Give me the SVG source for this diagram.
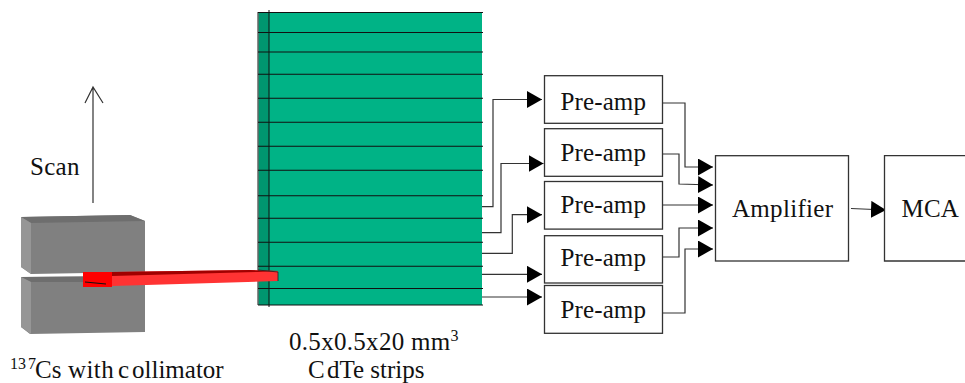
<svg xmlns="http://www.w3.org/2000/svg" width="965" height="383" viewBox="0 0 965 383">
<style>
text{font-family:"Liberation Serif","Times New Roman",serif;font-size:25px;fill:#111}
.box{fill:#fff;stroke:#333;stroke-width:1.3}
.c{fill:none;stroke:#333;stroke-width:1.2}
.s{stroke:#111;stroke-width:1.1}
.p{text-anchor:middle;letter-spacing:.1px}
.u{font-size:16px}
</style>
<defs>
<marker id="a" markerUnits="userSpaceOnUse" markerWidth="16" markerHeight="18" refX="15" refY="8.500" orient="auto"><path d="M0 0L15 8.500L0 17Z" fill="#000"/></marker>
</defs>
<g id="scan"><path class="c" d="M93 203V87M85 103L93 87L103 103"/><text x="30" y="175" letter-spacing=".3">Scan</text></g>
<g id="collimator">
<path d="M21 217L130 215L145 221V272L31 274L21 267Z" fill="#808080"/>
<path d="M21 217L130 215L145 221L31 223Z" fill="#6e6e6e"/>
<path d="M21 217L31 223V274L21 267Z" fill="#969696"/>
<path d="M21 277L145 276V332L30 334L21 327Z" fill="#808080"/>
<path d="M21 277L31 282H145V276Z" fill="#6e6e6e"/>
<path d="M21 277L31 282V334L21 327Z" fill="#969696"/>
<text y="378"><tspan class="u" x="10" dy="-9">13</tspan><tspan class="u" x="28">7</tspan><tspan x="35" dy="9">Cs</tspan><tspan x="68" letter-spacing=".4">with</tspan><tspan x="118">c</tspan><tspan x="132">ollimator</tspan></text>
</g>
<g id="strips">
<rect x="258" y="12" width="224" height="293" fill="#00b386"/>
<rect x="258" y="12" width="11" height="293" fill="#00966f"/>
<path d="M258 12V305" stroke="#666" stroke-width="1.5"/>
<path d="M269 10V307" stroke="#111" stroke-width="1"/>
<path class="s" d="M258 12.500H483M258 32.500H483M258 52H483M258 74.300H483M258 98.300H483M258 122.300H483M258 146.300H483M258 170.300H483M258 195.700H483M258 218.300H483M258 242.300H483M258 266.300H483M258 288.500H483M258 305H483"/>
<text x="289" y="350" letter-spacing=".3">0.5x0.5x20 mm<tspan class="u" dy="-9" letter-spacing="0">3</tspan></text>
<text y="378"><tspan x="308">C</tspan><tspan x="327">dTe strips</tspan></text>
</g>
<g id="beam">
<path d="M112 272L250 270L278 271V281L112 286Z" fill="#ff3333"/>
<path d="M112 272L250 270L278 271L258 272L112 276Z" fill="#a00000"/>
<path d="M258 270L278 272V281" fill="none" stroke="#222" stroke-width="0.8"/>
<rect x="83" y="272" width="29" height="15" fill="#ff0000"/>
<path d="M85 282L106 284" stroke="#111" stroke-width="1"/>
</g>
<g id="connectors">
<path class="c" marker-end="url(#a)" d="M482 206.700H493V99.500H542"/>
<path class="c" marker-end="url(#a)" d="M482 232.700H501V163.500H543.500"/>
<path class="c" marker-end="url(#a)" d="M482 253.300H512.300V214.700H542"/>
<path class="c" marker-end="url(#a)" d="M482 274.300H542"/>
<path class="c" marker-end="url(#a)" d="M482 297H542"/>
<path class="c" marker-end="url(#a)" d="M662 103H685V167H713"/>
<path class="c" marker-end="url(#a)" d="M662 154H679V184L713 185"/>
<path class="c" marker-end="url(#a)" d="M662 205H713"/>
<path class="c" marker-end="url(#a)" d="M662 257H679V228H713"/>
<path class="c" marker-end="url(#a)" d="M662 313H685V249H713"/>
<path class="c" marker-end="url(#a)" d="M851 208.500L886 210"/>
</g>
<g id="preamp1"><rect class="box" x="544.500" y="75.700" width="118" height="47.600"/><text class="p" x="603.300" y="110">Pre-amp</text></g>
<g id="preamp2"><rect class="box" x="544.500" y="128.700" width="118" height="47.600"/><text class="p" x="603.300" y="161">Pre-amp</text></g>
<g id="preamp3"><rect class="box" x="544.500" y="181.500" width="118" height="47.600"/><text class="p" x="603.300" y="213">Pre-amp</text></g>
<g id="preamp4"><rect class="box" x="544.500" y="235.700" width="118" height="47.300"/><text class="p" x="603.300" y="266">Pre-amp</text></g>
<g id="preamp5"><rect class="box" x="544.500" y="285.500" width="118" height="47.800"/><text class="p" x="603.300" y="318">Pre-amp</text></g>
<g id="amplifier"><rect class="box" x="715.500" y="155.700" width="133" height="105.300"/><text x="732" y="217" letter-spacing=".3">Amplifier</text></g>
<g id="mca"><path class="box" d="M966 155.700H884.500V261H966"/><text x="901.500" y="217" letter-spacing=".2">MCA</text></g>
</svg>
